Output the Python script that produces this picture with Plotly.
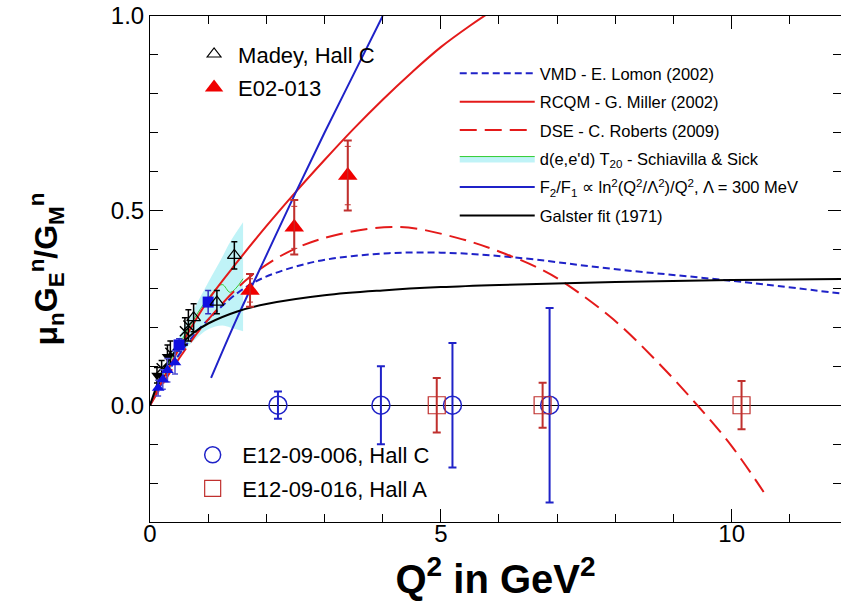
import plotly.graph_objects as go

# ---------------- data ----------------
# E12-09-006, Hall C (projected uncertainties, plotted at zero)
e12006_q2 = [2.2, 3.97, 5.2, 6.87]
e12006_val = [0.0, 0.0, 0.0, 0.0]
e12006_err = [0.035, 0.10, 0.16, 0.25]

# E12-09-016, Hall A (projected uncertainties, plotted at zero)
e12016_q2 = [4.93, 6.75, 10.17]
e12016_val = [0.0, 0.0, 0.0]
e12016_err = [0.07, 0.058, 0.062]

# E02-013 results: total and statistical errors
e02013_q2 = [1.72, 2.48, 3.40]
e02013_val = [0.295, 0.457, 0.59]
e02013_tot = [0.042, 0.07, 0.09]
e02013_stat = [0.03, 0.054, 0.075]

# Madey, Hall C
madey_q2 = [0.75, 1.15, 1.45]
madey_val = [0.225, 0.265, 0.385]
madey_err = [0.036, 0.03, 0.035]

# Other low-Q^2 measurements
bsq_q2 = [0.5, 1.0]
bsq_val = [0.155, 0.265]
bsq_err = [0.016, 0.03]

btri_q2 = [0.14, 0.22, 0.30, 0.43]
btri_val = [0.044, 0.066, 0.09, 0.11]
btri_err = [0.02, 0.025, 0.03, 0.03]

dtri_q2 = [0.12, 0.30]
dtri_val = [0.077, 0.125]
dtri_err = [0.02, 0.03]

cross_q2 = [0.20, 0.35, 0.60, 0.66]
cross_val = [0.095, 0.135, 0.19, 0.205]
cross_err = [0.02, 0.03, 0.035, 0.04]

# Theory curves
vmd_q2 = [0, 0.5, 1.0, 1.72, 2.7, 3.84, 5.0, 6.25, 7.97, 9.98, 12.0]
vmd_val = [0, 0.13, 0.22, 0.31, 0.364, 0.388, 0.392, 0.38, 0.35, 0.32, 0.285]

rcqm_q2 = [0, 0.5, 1.0, 1.5, 2.0, 2.5, 3.0, 3.5, 4.0, 4.5, 5.0, 5.5, 6.0]
rcqm_val = [0, 0.145, 0.27, 0.368, 0.46, 0.547, 0.63, 0.71, 0.785, 0.855, 0.92, 0.975, 1.025]

dse_q2 = [0, 0.5, 1.0, 1.72, 2.46, 3.27, 4.3, 5.28, 6.0, 6.71, 7.17, 7.97, 8.7, 9.41, 10.0, 10.55]
dse_val = [0, 0.12, 0.22, 0.33, 0.40, 0.44, 0.458, 0.43, 0.395, 0.35, 0.31, 0.22, 0.115, 0.0, -0.105, -0.223]

t20_q2 = [0, 0.25, 0.5, 0.75, 1.0, 1.24, 1.38, 1.6]
t20_val = [0, 0.085, 0.155, 0.22, 0.275, 0.31, 0.29, 0.325]
t20_hi = [0, 0.10, 0.175, 0.245, 0.315, 0.38, 0.42, 0.47]
t20_lo = [0, 0.065, 0.125, 0.165, 0.195, 0.205, 0.2, 0.19]

pqcd_q2 = [1.05, 1.5, 2.0, 2.5, 3.0, 3.5, 4.0]
pqcd_val = [0.07, 0.225, 0.385, 0.545, 0.70, 0.85, 1.0]

galster_q2 = [0, 0.25, 0.5, 0.75, 1.0, 1.5, 2.0, 3.0, 4.0, 5.0, 6.0, 8.0, 10.0, 12.0]
galster_val = [0, 0.097, 0.151, 0.186, 0.210, 0.241, 0.260, 0.2825, 0.295, 0.3035, 0.309, 0.3166, 0.3215, 0.3245]

# ---------------- styles ----------------
BLUE = "#1f22c8"
RED = "#e41a1a"
DKRED = "#c0302e"
BAND = "rgba(185,242,246,0.9)"
FONT = "Liberation Sans, Arial, Helvetica, sans-serif"

fig = go.Figure()

# T20 band: upper edge, centre (fills down from upper), lower edge (fills down from centre)
fig.add_trace(go.Scatter(x=t20_q2, y=t20_hi, mode="lines", line=dict(width=0, shape="spline"),
                         showlegend=False, legend="legend3", hoverinfo="skip"))
fig.add_trace(go.Scatter(x=t20_q2, y=t20_val, mode="lines", fill="tonexty", fillcolor=BAND,
                         line=dict(color="#33cc33", width=1, shape="spline"),
                         name="d(e,e'd) T<sub>20</sub> - Schiavilla & Sick",
                         legend="legend3", legendrank=4, legendgroup="t20"))
fig.add_trace(go.Scatter(x=t20_q2, y=t20_lo, mode="lines", fill="tonexty", fillcolor=BAND,
                         line=dict(width=0, shape="spline"),
                         showlegend=False, legend="legend3", hoverinfo="skip"))

fig.add_trace(go.Scatter(x=vmd_q2, y=vmd_val, mode="lines",
                         line=dict(color=BLUE, width=2, dash="7px,4px", shape="spline"),
                         name="VMD - E. Lomon (2002)", legend="legend3", legendrank=1,
                         legendgroup="vmd"))
fig.add_trace(go.Scatter(x=rcqm_q2, y=rcqm_val, mode="lines",
                         line=dict(color=RED, width=2, shape="spline"),
                         name="RCQM - G. Miller (2002)", legend="legend3", legendrank=2,
                         legendgroup="rcqm"))
fig.add_trace(go.Scatter(x=dse_q2, y=dse_val, mode="lines",
                         line=dict(color=RED, width=2, dash="17px,8px", shape="spline"),
                         name="DSE - C. Roberts (2009)", legend="legend3", legendrank=3,
                         legendgroup="dse"))
fig.add_trace(go.Scatter(x=pqcd_q2, y=pqcd_val, mode="lines",
                         line=dict(color=BLUE, width=2, shape="spline"),
                         name="F<sub>2</sub>/F<sub>1</sub> ∝ ln<sup>2</sup>(Q<sup>2</sup>/Λ<sup>2</sup>)/Q<sup>2</sup>, Λ = 300 MeV",
                         legend="legend3", legendrank=5, legendgroup="pqcd"))
fig.add_trace(go.Scatter(x=galster_q2, y=galster_val, mode="lines",
                         line=dict(color="black", width=2, shape="spline"),
                         name="Galster fit (1971)", legend="legend3", legendrank=6,
                         legendgroup="galster"))

# other low-Q^2 data
def err(arr, color):
    return dict(type="data", array=arr, color=color, thickness=1.5, width=3)

fig.add_trace(go.Scatter(x=cross_q2, y=cross_val, mode="markers", showlegend=False,
                         marker=dict(symbol="x-thin", size=10, line=dict(color="black", width=1.5)),
                         error_y=err(cross_err, "black")))
fig.add_trace(go.Scatter(x=dtri_q2, y=dtri_val, mode="markers", showlegend=False,
                         marker=dict(symbol="triangle-down", size=10, color="black"),
                         error_y=err(dtri_err, "black")))
fig.add_trace(go.Scatter(x=btri_q2, y=btri_val, mode="markers", showlegend=False,
                         marker=dict(symbol="triangle-up", size=11, color="#1010e0"),
                         error_y=err(btri_err, "#5050d0")))
fig.add_trace(go.Scatter(x=bsq_q2, y=bsq_val, mode="markers", showlegend=False,
                         marker=dict(symbol="square", size=11, color="#1010e0"),
                         error_y=err(bsq_err, "#3030c0")))

# Madey, E02-013
fig.add_trace(go.Scatter(x=madey_q2, y=madey_val, mode="markers", name="Madey, Hall C",
                         legend="legend", legendgroup="madey",
                         marker=dict(symbol="triangle-up-open", size=12,
                                     color="black", line=dict(width=1.2, color="black")),
                         error_y=err(madey_err, "black")))
fig.add_trace(go.Scatter(x=e02013_q2, y=e02013_val, mode="markers", name="E02-013",
                         legend="legend", legendgroup="e02013",
                         marker=dict(symbol="triangle-up", size=17, color="#f00000"),
                         error_y=dict(type="data", array=e02013_tot, color=DKRED,
                                      thickness=2, width=4)))
fig.add_trace(go.Scatter(x=e02013_q2, y=e02013_val, mode="markers", showlegend=False,
                         legend="legend", legendgroup="e02013",
                         marker=dict(size=1, color="rgba(0,0,0,0)"),
                         error_y=dict(type="data", array=e02013_stat, color=DKRED,
                                      thickness=1, width=3)))

# projected 12 GeV points
fig.add_trace(go.Scatter(x=e12006_q2, y=e12006_val, mode="markers", name="E12-09-006, Hall C",
                         legend="legend2", legendgroup="e12006",
                         marker=dict(symbol="circle-open", size=18, color=BLUE,
                                     line=dict(width=1.5, color=BLUE)),
                         error_y=dict(type="data", array=e12006_err, color=BLUE,
                                      thickness=2, width=4)))
fig.add_trace(go.Scatter(x=e12016_q2, y=e12016_val, mode="markers", name="E12-09-016, Hall A",
                         legend="legend2", legendgroup="e12016",
                         marker=dict(symbol="square-open", size=17, color=DKRED,
                                     line=dict(width=1.2, color=DKRED)),
                         error_y=dict(type="data", array=e12016_err, color=DKRED,
                                      thickness=2, width=4)))

axis_common = dict(showline=True, linecolor="black", linewidth=1, mirror="ticks",
                   ticks="inside", ticklen=13, tickcolor="black", showgrid=False,
                   tickfont=dict(family=FONT, size=24, color="black"))

fig.update_layout(
    width=841, height=601,
    margin=dict(l=150, r=0, t=16, b=79),
    plot_bgcolor="white", paper_bgcolor="white",
    font=dict(family=FONT, color="black"),
    xaxis=dict(range=[0, 11.88], tick0=0, dtick=5, zeroline=False, ticklabelstandoff=-10,
               minor=dict(ticks="inside", ticklen=8, dtick=1, tickcolor="black"),
               title=dict(text="Q<sup>2</sup> in GeV<sup>2</sup>",
                          font=dict(family="Liberation Sans Narrow, " + FONT, size=40, weight="bold"),
                          standoff=19),
               **axis_common),
    yaxis=dict(range=[-0.3, 1.0], tick0=0, dtick=0.5, tickformat=".1f",
               zeroline=True, zerolinecolor="black", zerolinewidth=1,
               minor=dict(ticks="inside", ticklen=8, dtick=0.1, tickcolor="black"),
               title=dict(text="μ<sub>n</sub>G<sub>E</sub><sup>n</sup>/G<sub>M</sub><sup>n</sup>",
                          font=dict(family=FONT, size=32, weight="bold"), standoff=43),
               **axis_common),
    legend=dict(x=0.058, y=0.966, xanchor="left", yanchor="top", bgcolor="rgba(0,0,0,0)",
                font=dict(size=22), tracegroupgap=2, traceorder="grouped", itemwidth=38),
    legend2=dict(x=0.048, y=0.174, xanchor="left", yanchor="top", bgcolor="rgba(0,0,0,0)",
                 font=dict(size=22), tracegroupgap=2, traceorder="grouped", itemwidth=49),
    legend3=dict(x=0.441, y=0.921, xanchor="left", yanchor="top", bgcolor="rgba(0,0,0,0)",
                 font=dict(size=16.5), tracegroupgap=4, traceorder="grouped", itemwidth=75),
)

fig.write_html("out.html")
